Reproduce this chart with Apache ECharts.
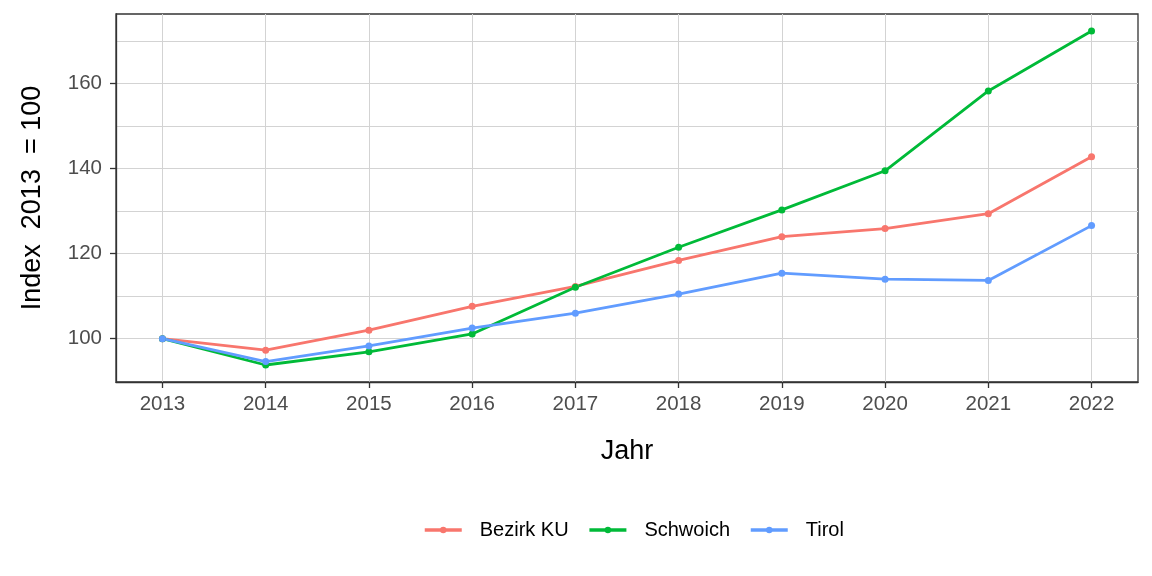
<!DOCTYPE html>
<html>
<head>
<meta charset="utf-8">
<script src="https://cdn.jsdelivr.net/npm/echarts@6/dist/echarts.min.js"></script>
<style>
  html, body { margin: 0; padding: 0; background: #fff; }
  #main { width: 1152px; height: 576px; }
</style>
</head>
<body>
<div id="main"></div>
<script>
// Daten (Index 2013 = 100)
var jahre = [2013, 2014, 2015, 2016, 2017, 2018, 2019, 2020, 2021, 2022];
var bezirkKU = [100, 97.3, 102.0, 107.6, 112.3, 118.4, 124.0, 125.9, 129.4, 142.8];
var schwoich = [100, 93.8, 96.9, 101.1, 112.1, 121.5, 130.3, 139.5, 158.3, 172.4];
var tirol    = [100, 94.6, 98.3, 102.5, 106.0, 110.5, 115.4, 114.0, 113.7, 126.6];
var yTicks = [100, 120, 140, 160];
var yMinor = [110, 130, 150, 170];

var farben = ['#F8766D', '#00BA38', '#619CFF'];

function paare(werte) {
  return jahre.map(function (j, i) { return [j, werte[i]]; });
}

function serie(name, werte, farbe) {
  return {
    name: name,
    type: 'line',
    data: paare(werte),
    symbol: 'circle',
    symbolSize: 7,
    lineStyle: { width: 2.8, color: farbe },
    itemStyle: { color: farbe },
    emphasis: { disabled: true }
  };
}

var myChart = echarts.init(document.getElementById('main'));
var option = {
  animation: false,
  color: farben,
  textStyle: { fontFamily: 'Liberation Sans, Arial, sans-serif' },
  grid: {
    left: 116, right: 14, top: 14, bottom: 194,
    show: true, borderColor: '#333', borderWidth: 1.3, backgroundColor: '#fff'
  },
  legend: {
    data: ['Bezirk KU', 'Schwoich', 'Tirol'],
    left: 418, top: 515,
    itemWidth: 37, itemHeight: 8, itemGap: 19,
    lineStyle: { width: 3.5 },
    textStyle: { fontSize: 20, color: '#000', padding: [0, 0, 0, 13] }
  },
  xAxis: {
    type: 'value',
    min: 2012.55, max: 2022.45,
    name: 'Jahr', nameLocation: 'middle', nameGap: 56,
    nameTextStyle: { fontSize: 27, color: '#000' },
    axisLine: { show: true, lineStyle: { color: '#333', width: 1.3 } },
    axisTick: { show: true, length: 6, customValues: jahre, lineStyle: { color: '#333', width: 1.3 } },
    axisLabel: { customValues: jahre, fontSize: 20.5, color: '#4d4d4d', margin: 12,
      formatter: function (v) { return String(v); } },
    splitLine: { show: true, lineStyle: { color: '#d3d3d3', width: 1 } }
  },
  yAxis: [{
    type: 'value',
    min: 89.8, max: 176.4,
    name: 'Index  2013  = 100', nameLocation: 'middle', nameGap: 70,
    nameTextStyle: { fontSize: 27, color: '#000' },
    axisLine: { show: true, lineStyle: { color: '#333', width: 1.3 } },
    axisTick: { show: true, length: 6, customValues: yTicks, lineStyle: { color: '#333', width: 1.3 } },
    axisLabel: { customValues: yTicks, fontSize: 20.5, color: '#4d4d4d', margin: 14 },
    splitLine: { show: true, lineStyle: { color: '#d3d3d3', width: 1 } }
  }, {
    type: 'value',
    position: 'left',
    min: 89.8, max: 176.4,
    axisLine: { show: false },
    axisTick: { show: false, customValues: yMinor },
    axisLabel: { show: false, customValues: yMinor },
    splitLine: { show: true, lineStyle: { color: '#d3d3d3', width: 1 } }
  }],
  series: [
    serie('Bezirk KU', bezirkKU, farben[0]),
    serie('Schwoich', schwoich, farben[1]),
    serie('Tirol', tirol, farben[2])
  ]
};
myChart.setOption(option);
</script>
</body>
</html>
